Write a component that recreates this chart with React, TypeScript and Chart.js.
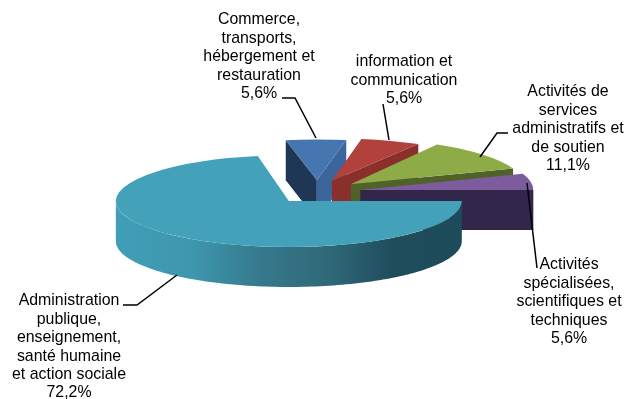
import React, { useEffect, useRef } from "react";
import { Chart, registerables } from "chart.js";

Chart.register(...registerables);

const categories = [
  "Administration publique, enseignement, santé humaine et action sociale",
  "Commerce, transports, hébergement et restauration",
  "information et communication",
  "Activités de services administratifs et de soutien",
  "Activités spécialisées, scientifiques et techniques",
];
const values = [72.2, 5.6, 5.6, 11.1, 5.6];
const labelLines = [
  ["Administration", "publique,", "enseignement,", "santé humaine", "et action sociale"],
  ["Commerce,", "transports,", "hébergement et", "restauration"],
  ["information et", "communication"],
  ["Activités de", "services", "administratifs et", "de soutien"],
  ["Activités", "spécialisées,", "scientifiques et", "techniques"],
];
const topColors = ["#43a1ba", "#4576b0", "#b2403d", "#8dac48", "#7c5c9c"];

const EXPLODE = 44;
const TILT = 0.27;
const SLICE_TILT = [0.265, 0.235, 0.245, 0.265, 0.27];
const DEPTH = 40;
const PAINT_ORDER = [1, 2, 3, 4, 0];

const startFaceColors = ["#1e4d5c", "#1f3654", "#7f2b29", "#4f6228", "#32264a"];
const endFaceColors = ["#1e4d5c", "#3c669b", "#8a2f2c", "#4f6228", "#32264a"];
const wallStops: [number, string][] = [
  [0, "#409eb6"],
  [0.22, "#3d97ae"],
  [0.42, "#36798c"],
  [0.62, "#2f6878"],
  [0.8, "#1f4d5c"],
  [1, "#1e4b5a"],
];

const labelBoxes = [
  { x: 69, y: 301, leader: [[123, 305], [137, 305], [177, 275]] },
  { x: 259, y: 20, leader: [[282, 98], [295, 98], [316, 138]] },
  { x: 404, y: 62, leader: [[383, 104], [389, 140]] },
  { x: 568, y: 92, leader: [[508, 133], [497, 133], [480, 157]] },
  { x: 569, y: 265, leader: [[527, 183], [537, 268]] },
];
const LINE_HEIGHT = 18.4;

const pie3d = {
  id: "pie3d",
  beforeDatasetsDraw(chart: any) {
    const ctx: CanvasRenderingContext2D = chart.ctx;
    const arcs = chart.getDatasetMeta(0).data;
    for (const i of PAINT_ORDER) {
      const arc = arcs[i];
      const { x, y, startAngle, endAngle, outerRadius: r } = arc;
      const mid = (startAngle + endAngle) / 2;
      const k = SLICE_TILT[i];
      const dx = EXPLODE * Math.cos(mid);
      const dy = EXPLODE * Math.sin(mid) * TILT;
      const px = (a: number, rad: number) => x + dx + rad * Math.cos(a);
      const py = (a: number, rad: number) => y + dy + k * rad * Math.sin(a);

      const face = (a: number, color: string) => {
        ctx.beginPath();
        ctx.moveTo(px(a, 0), py(a, 0));
        ctx.lineTo(px(a, r), py(a, r));
        ctx.lineTo(px(a, r), py(a, r) + DEPTH);
        ctx.lineTo(px(a, 0), py(a, 0) + DEPTH);
        ctx.closePath();
        ctx.fillStyle = color;
        ctx.fill();
      };
      if (-Math.cos(startAngle) > 0) face(startAngle, startFaceColors[i]);
      if (Math.cos(endAngle) > 0) face(endAngle, endFaceColors[i]);

      // Outer wall: only the portion of the rim that faces the viewer.
      const TAU = Math.PI * 2;
      let a0 = startAngle, a1 = endAngle;
      while (a0 >= TAU) { a0 -= TAU; a1 -= TAU; }
      while (a0 < 0) { a0 += TAU; a1 += TAU; }
      const from = Math.max(a0, 0);
      const to = Math.min(a1, Math.PI);
      if (to > from) {
        const g = ctx.createLinearGradient(px(to, r), 0, px(from, r), 0);
        wallStops.forEach(([s, c]) => g.addColorStop(s, c));
        ctx.beginPath();
        const steps = 120;
        for (let s = 0; s <= steps; s++) {
          const a = from + ((to - from) * s) / steps;
          ctx.lineTo(px(a, r), py(a, r));
        }
        for (let s = steps; s >= 0; s--) {
          const a = from + ((to - from) * s) / steps;
          ctx.lineTo(px(a, r), py(a, r) + DEPTH);
        }
        ctx.closePath();
        ctx.fillStyle = g;
        ctx.fill();
      }

      // Top surface, drawn by the library's own arc element.
      ctx.save();
      ctx.translate(x + dx, y + dy);
      ctx.scale(1, k);
      ctx.translate(-x, -y);
      arc.draw(ctx);
      ctx.restore();
    }
    return false;
  },
  afterDraw(chart: any) {
    const ctx: CanvasRenderingContext2D = chart.ctx;
    ctx.save();
    ctx.strokeStyle = "#000000";
    ctx.lineWidth = 1.5;
    ctx.lineJoin = "miter";
    ctx.fillStyle = "#000000";
    ctx.font = '15.9px "Liberation Sans", Arial, sans-serif';
    ctx.textAlign = "center";
    ctx.textBaseline = "middle";
    labelBoxes.forEach((box, i) => {
      ctx.beginPath();
      box.leader.forEach(([lx, ly], n) => (n ? ctx.lineTo(lx, ly) : ctx.moveTo(lx, ly)));
      ctx.stroke();
      const lines = [...labelLines[i], values[i].toFixed(1).replace(".", ",") + "%"];
      lines.forEach((t, n) => ctx.fillText(t, box.x, box.y + n * LINE_HEIGHT));
    });
    ctx.restore();
  },
};

export default function App() {
  const ref = useRef<HTMLCanvasElement>(null);
  useEffect(() => {
    const chart = new Chart(ref.current as HTMLCanvasElement, {
      type: "pie",
      data: {
        labels: categories,
        datasets: [{ data: values, backgroundColor: topColors, borderWidth: 0, hoverOffset: 0 }],
      },
      options: {
        responsive: false,
        animation: false,
        rotation: 90,
        layout: { padding: { left: 9, right: 0, top: 19, bottom: 34 } },
        events: [],
        plugins: { legend: { display: false }, tooltip: { enabled: false } },
      },
      plugins: [pie3d],
    } as any);
    return () => chart.destroy();
  }, []);
  return (
    <div style={{ position: "fixed", left: 0, top: 0, width: 625, height: 399, background: "#fff" }}>
      <canvas ref={ref} width={625} height={399} style={{ display: "block" }} />
    </div>
  );
}
